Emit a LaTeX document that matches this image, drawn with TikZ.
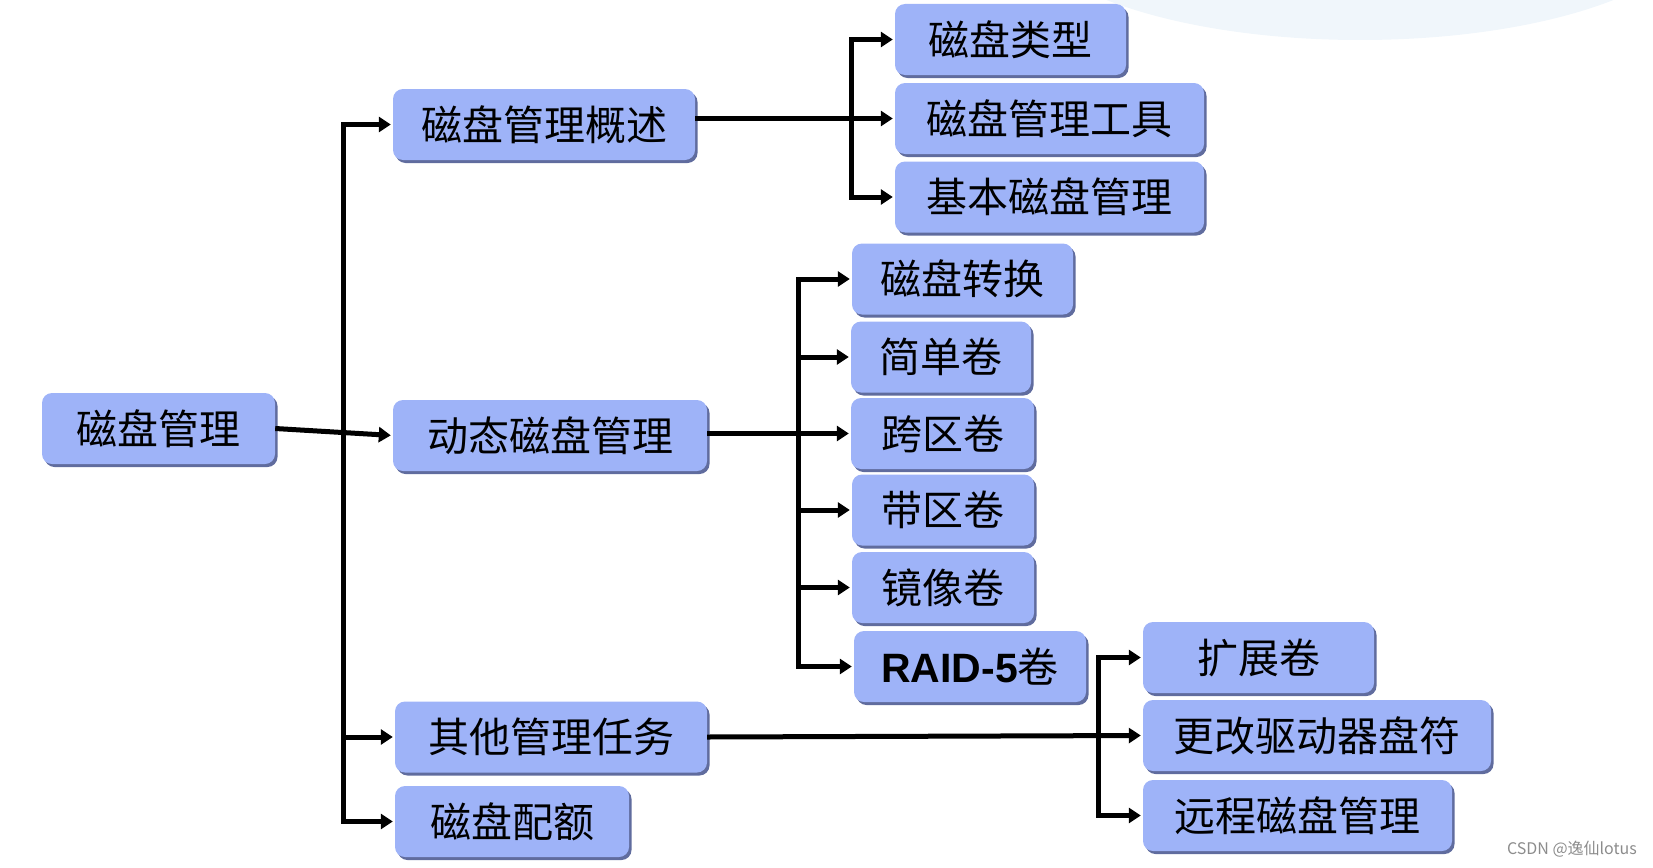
\documentclass[tikz,border=0pt]{standalone}
\usepackage{fontspec}
\setmainfont{Noto Sans CJK SC}
\newfontfamily\latinbold{Liberation Sans}
\usetikzlibrary{arrows.meta,shadows}
\definecolor{boxfill}{RGB}{158,179,248}
\definecolor{shadowc}{RGB}{96,108,158}
\definecolor{bgblue}{RGB}{240,246,251}
\tikzset{
  box/.style={rectangle, rounded corners=10pt, fill=boxfill, minimum height=71pt,
    inner sep=0pt, font=\fontsize{41}{46}\selectfont,
    drop shadow={shadow xshift=2.5pt, shadow yshift=-3pt, opacity=1, fill=shadowc}},
  arr/.style={line width=5pt, -{Triangle[length=12pt,width=15pt]}, shorten >=2pt},
}
\begin{document}
\begin{tikzpicture}[x=1pt,y=-1pt]
\useasboundingbox (0,0) rectangle (1653,867);
\begin{scope}
\clip (0,0) rectangle (1653,867);
\fill[bgblue] (1360,-80) ellipse [x radius=340, y radius=120];
\end{scope}

\node[box, minimum width=233pt] (root) at (158.5,428.5) {磁盘管理};
\node[box, minimum width=302pt] (gs) at (544,124.5) {磁盘管理概述};
\node[box, minimum width=231pt] (lx) at (1010.5,39.5) {磁盘类型};
\node[box, minimum width=309pt] (gj) at (1049.5,118.5) {磁盘管理工具};
\node[box, minimum width=309pt] (jb) at (1049.5,197) {基本磁盘管理};
\node[box, minimum width=314pt] (dt) at (550,435.5) {动态磁盘管理};
\node[box, minimum width=221pt] (zh) at (962.5,279) {磁盘转换};
\node[box, minimum width=180pt] (jd) at (941,357) {简单卷};
\node[box, minimum width=183pt] (kq) at (942.5,433.5) {跨区卷};
\node[box, minimum width=182pt] (dq) at (943,510) {带区卷};
\node[box, minimum width=182pt] (jx) at (943,587.5) {镜像卷};
\node[box, minimum width=232pt] (raid) at (970,666.5) {{\latinbold\bfseries RAID-5}卷};
\node[box, minimum width=231pt] (kz) at (1258.5,657.5) {扩展卷};
\node[box, minimum width=348pt] (gg) at (1317,735.5) {更改驱动器盘符};
\node[box, minimum width=309pt] (yc) at (1297.5,815.5) {远程磁盘管理};
\node[box, minimum width=312pt] (qt) at (551,737) {其他管理任务};
\node[box, minimum width=234pt] (pe) at (512,821.5) {磁盘配额};

\coordinate (t1) at (343,0);
\coordinate (t2) at (851,0);
\coordinate (t3) at (798,0);
\coordinate (t4) at (1098,0);

% root to dynamic
\draw[arr] (root.east) -- (dt.west);
% main trunk
\draw[arr] (t1|-pe.west) -- (t1|-gs.west) -- (gs.west);
\draw[arr] (t1|-gs.west) -- (t1|-pe.west) -- (pe.west);
\draw[arr] (t1|-qt.west) -- (qt.west);

% overview branch
\draw[arr] (gs.east |- gj.west) -- (gj.west);
\draw[arr] (t2|-jb.west) -- (t2|-lx.west) -- (lx.west);
\draw[arr] (t2|-lx.west) -- (t2|-jb.west) -- (jb.west);

% dynamic branch
\draw[arr] (dt.east |- kq.west) -- (kq.west);
\draw[arr] (t3|-raid.west) -- (t3|-zh.west) -- (zh.west);
\draw[arr] (t3|-zh.west) -- (t3|-raid.west) -- (raid.west);
\draw[arr] (t3|-jd.west) -- (jd.west);
\draw[arr] (t3|-dq.west) -- (dq.west);
\draw[arr] (t3|-jx.west) -- (jx.west);

% other tasks branch
\draw[arr] (qt.east) -- (gg.west);
\draw[arr] (t4|-yc.west) -- (t4|-kz.west) -- (kz.west);
\draw[arr] (t4|-kz.west) -- (t4|-yc.west) -- (yc.west);

\node[anchor=east, text=black!45, font=\fontsize{16}{18}\selectfont, inner sep=0pt] (wm) at (1637,849) {CSDN @逸仙lotus};
\end{tikzpicture}
\end{document}
